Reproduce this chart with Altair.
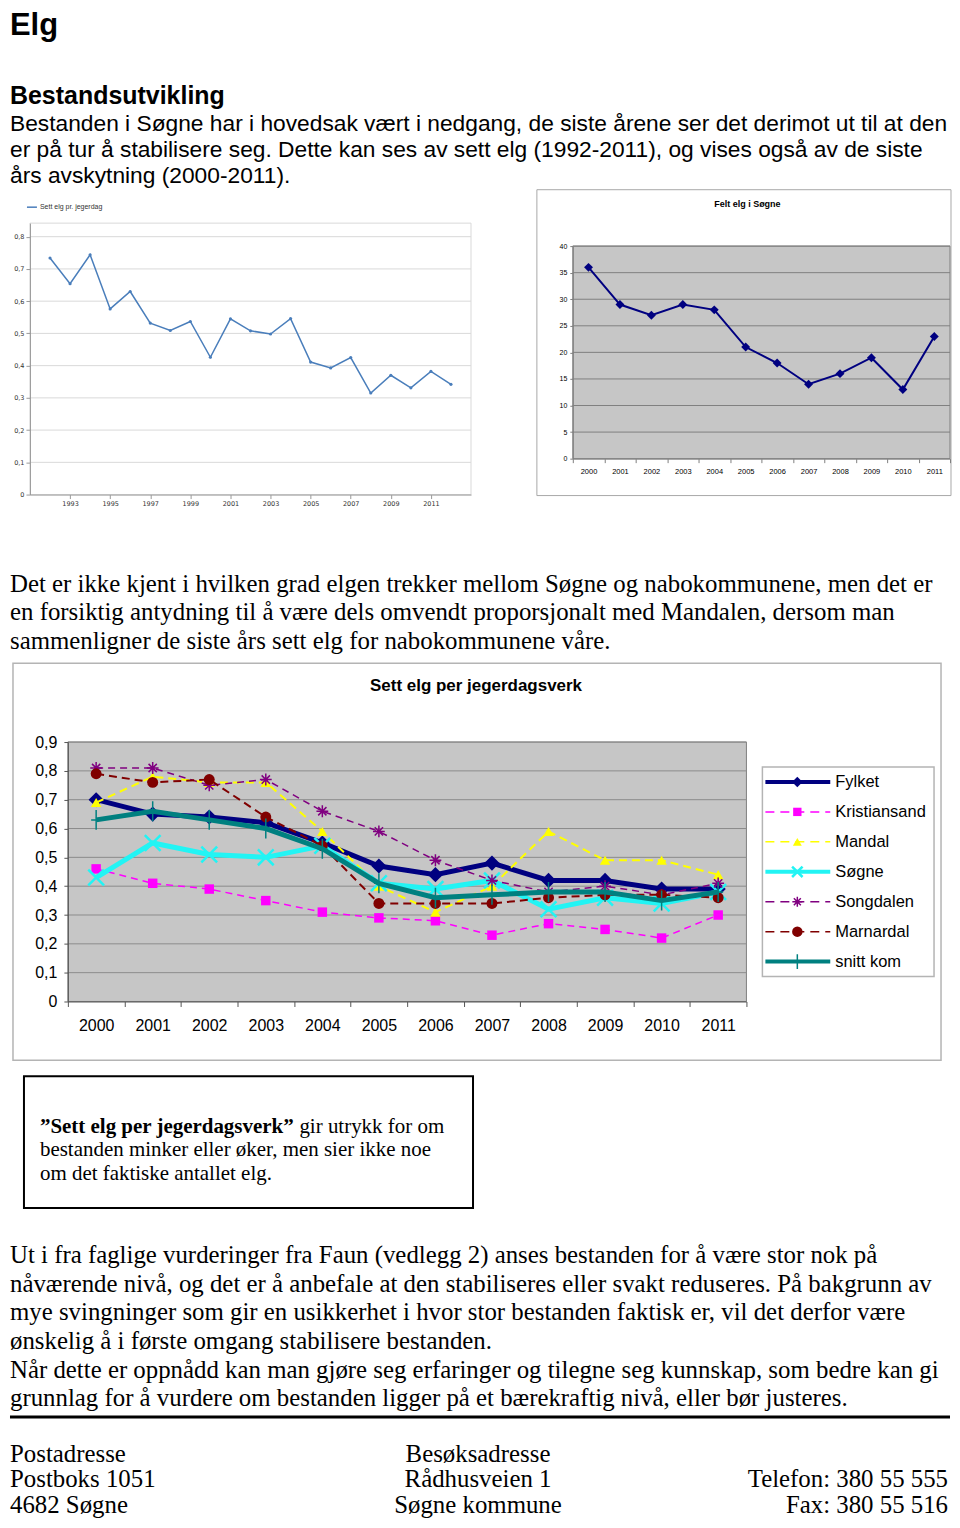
import altair as alt
import pandas as pd

# ---------------- text content ----------------
PAGE_TITLE = "Elg"
HEADING = "Bestandsutvikling"
PARA1 = [
    "Bestanden i Søgne har i hovedsak vært i nedgang, de siste årene ser det derimot ut til at den",
    "er på tur å stabilisere seg. Dette kan ses av sett elg (1992-2011), og vises også av de siste",
    "års avskytning (2000-2011).",
]
PARA2 = [
    "Det er ikke kjent i hvilken grad elgen trekker mellom Søgne og nabokommunene, men det er",
    "en forsiktig antydning til å være dels omvendt proporsjonalt med Mandalen, dersom man",
    "sammenligner de siste års sett elg for nabokommunene våre.",
]
BOX_BOLD = "\u201dSett elg per jegerdagsverk\u201d"
BOX_REST = "gir utrykk for om"
BOX_LINES = [
    "bestanden minker eller øker, men sier ikke noe",
    "om det faktiske antallet elg.",
]
PARA3 = [
    "Ut i fra faglige vurderinger fra Faun (vedlegg 2) anses bestanden for å være stor nok på",
    "nåværende nivå, og det er å anbefale at den stabiliseres eller svakt reduseres. På bakgrunn av",
    "mye svingninger som gir en usikkerhet i hvor stor bestanden faktisk er, vil det derfor være",
    "ønskelig å i første omgang stabilisere bestanden.",
    "Når dette er oppnådd kan man gjøre seg erfaringer og tilegne seg kunnskap, som bedre kan gi",
    "grunnlag for å vurdere om bestanden ligger på et bærekraftig nivå, eller bør justeres.",
]
FOOTER_LEFT = ["Postadresse", "Postboks 1051", "4682 Søgne"]
FOOTER_MID = ["Besøksadresse", "Rådhusveien 1", "Søgne kommune"]
FOOTER_RIGHT = ["Telefon: 380 55 555", "Fax: 380 55 516"]

# ---------------- chart 1: sett elg pr. jegerdag ----------------
LEFT_LEGEND = "Sett elg pr. jegerdag"
LEFT_YEARS = [1992, 1993, 1994, 1995, 1996, 1997, 1998, 1999, 2000, 2001, 2002,
              2003, 2004, 2005, 2006, 2007, 2008, 2009, 2010, 2011, 2012]
LEFT_VALUES = [0.734, 0.654, 0.744, 0.576, 0.630, 0.532, 0.509, 0.537, 0.426, 0.545, 0.508,
               0.498, 0.546, 0.411, 0.393, 0.425, 0.315, 0.370, 0.331, 0.382, 0.342]
LEFT_XTICKS = [1993, 1995, 1997, 1999, 2001, 2003, 2005, 2007, 2009, 2011]
LEFT_YTICKS = [0, 0.1, 0.2, 0.3, 0.4, 0.5, 0.6, 0.7, 0.8]

# ---------------- chart 2: felt elg i Søgne ----------------
RIGHT_TITLE = "Felt elg i Søgne"
YEARS = ["2000", "2001", "2002", "2003", "2004", "2005", "2006", "2007", "2008", "2009", "2010", "2011"]
FELT_ELG = [36, 29, 27, 29, 28, 21, 18, 14, 16, 19, 13, 23]
RIGHT_YTICKS = [0, 5, 10, 15, 20, 25, 30, 35, 40]

# ---------------- chart 3: sett elg per jegerdagsverk ----------------
BIG_TITLE = "Sett elg per jegerdagsverk"
SERIES = ["Fylket", "Kristiansand", "Mandal", "Søgne", "Songdalen", "Marnardal", "snitt kom"]
FYLKET = [0.70, 0.65, 0.64, 0.62, 0.55, 0.47, 0.44, 0.48, 0.42, 0.42, 0.39, 0.39]
KRISTIANSAND = [0.46, 0.41, 0.39, 0.35, 0.31, 0.29, 0.28, 0.23, 0.27, 0.25, 0.22, 0.30]
MANDAL = [0.69, 0.78, 0.76, 0.76, 0.59, 0.40, 0.31, 0.40, 0.59, 0.49, 0.49, 0.44]
SOGNE = [0.43, 0.55, 0.51, 0.50, 0.54, 0.41, 0.39, 0.42, 0.32, 0.36, 0.34, 0.38]
SONGDALEN = [0.81, 0.81, 0.75, 0.77, 0.66, 0.59, 0.49, 0.42, 0.38, 0.40, 0.37, 0.41]
MARNARDAL = [0.79, 0.76, 0.77, 0.64, 0.54, 0.34, 0.34, 0.34, 0.36, 0.37, 0.37, 0.36]
SNITT_KOM = [0.63, 0.66, 0.63, 0.60, 0.53, 0.41, 0.36, 0.37, 0.38, 0.38, 0.35, 0.38]
BIG_VALUES = [FYLKET, KRISTIANSAND, MANDAL, SOGNE, SONGDALEN, MARNARDAL, SNITT_KOM]
BIG_YTICKS = [0, 0.1, 0.2, 0.3, 0.4, 0.5, 0.6, 0.7, 0.8, 0.9]

# ---------------- styles / layout ----------------
SANS = "Liberation Sans"
SERIF = "Liberation Serif"
W, H = 944, 1512
SERIF_SIZE = 24.9
COMMA = "datum.value == 0 ? '0' : replace(format(datum.value, '.1f'), '.', ',')"
XPATH = "M-1,-1L1,1M-1,1L1,-1"
ASTER = "M-1,0L1,0M0,-1L0,1M-0.7,-0.7L0.7,0.7M-0.7,0.7L0.7,-0.7"
PLUS = "M0,-1L0,1M-0.5,0L0.5,0"
STYLE = {
    "Fylket": dict(color="#000080", width=5, shape="diamond", size=230, filled=True, mw=1, lw=4, ls=110),
    "Kristiansand": dict(color="#FF00FF", width=1.5, dash=[7, 5], shape="square", size=90, filled=True, mw=1, lw=1.5, ls=70),
    "Mandal": dict(color="#FFFF00", width=2, dash=[8, 5], shape="triangle-up", size=110, filled=True, mw=1, lw=1.5, ls=80),
    "Søgne": dict(color="#22F4F4", width=5, shape=XPATH, size=250, filled=False, mw=2.5, lw=4, ls=110),
    "Songdalen": dict(color="#800080", width=1.5, dash=[7, 5], shape=ASTER, size=140, filled=False, mw=1.5, lw=1.5, ls=100),
    "Marnardal": dict(color="#800000", width=2, dash=[8, 5], shape="circle", size=120, filled=True, mw=1, lw=1.5, ls=110),
    "snitt kom": dict(color="#008080", width=5, shape=PLUS, size=400, filled=False, mw=1.5, lw=4, ls=220),
}


def one():
    return pd.DataFrame({"k": [0]})


def text_block(lines, x, y0, dy, size, font=SANS, weight="normal", align="left"):
    df = pd.DataFrame({
        "t": lines,
        "px": [x] * len(lines),
        "py": [y0 + i * dy for i in range(len(lines))],
    })
    return alt.Chart(df).mark_text(
        align=align, baseline="alphabetic", font=font, fontSize=size,
        fontWeight=weight, color="black",
    ).encode(
        x=alt.X("px:Q", scale=None, axis=None),
        y=alt.Y("py:Q", scale=None, axis=None),
        text="t:N",
    )


def box(x0, y0, x1, y1, **kw):
    return alt.Chart(one()).mark_rect(**kw).encode(
        x=alt.value(x0), x2=alt.value(x1), y=alt.value(y0), y2=alt.value(y1))


def label(text, x, y, **kw):
    return alt.Chart(one()).mark_text(text=text, **kw).encode(x=alt.value(x), y=alt.value(y))


def line_kw(st, legend=False):
    kw = dict(color=st["color"], strokeWidth=st["lw"] if legend else st["width"])
    if "dash" in st:
        kw["strokeDash"] = [9, 6] if legend else st["dash"]
    return kw


def point_kw(st, legend=False):
    return dict(shape=st["shape"], size=st["ls"] if legend else st["size"], filled=st["filled"],
                color=st["color"], strokeWidth=st["mw"], opacity=1)


# ---------------- left chart ----------------
L_X0, L_X1, L_Y0, L_Y1 = 20, 462, 214, 486
LBLUE = "#4A7EBB"
left_df = pd.DataFrame({"year": LEFT_YEARS, "v": LEFT_VALUES})
lx = alt.X("year:Q", scale=alt.Scale(domain=[1991, 2013], range=[L_X0, L_X1], nice=False, zero=False),
           axis=alt.Axis(orient="bottom", offset=L_Y1 - H, values=LEFT_XTICKS, format="d", grid=False,
                         labelFont="DejaVu Sans", labelFontSize=6.5, labelColor="#333", labelPadding=2,
                         tickSize=4, tickColor="#999", domainColor="#999", labelFlush=False,
                         title=None, zindex=1))
ly = alt.Y("v:Q", scale=alt.Scale(domain=[0, 0.842], range=[L_Y1, L_Y0], nice=False),
           axis=alt.Axis(orient="left", offset=-L_X0, values=LEFT_YTICKS, labelExpr=COMMA, grid=False,
                         labelFont="DejaVu Sans", labelFontSize=6.5, labelColor="#333", labelPadding=2,
                         tickSize=4, tickColor="#999", domainColor="#999", labelFlush=False,
                         title=None, zindex=1))
left_layer = alt.layer(
    box(L_X0, L_Y0, L_X1, L_Y1, fill="white", stroke="#d9d9d9", strokeWidth=1),
    alt.Chart(pd.DataFrame({"v": LEFT_YTICKS[1:]})).mark_rule(color="#d9d9d9", strokeWidth=1).encode(
        y=ly, x=alt.value(L_X0), x2=alt.value(L_X1)),
    alt.Chart(left_df).mark_line(color=LBLUE, strokeWidth=1.5).encode(x=lx, y=ly),
    alt.Chart(left_df).mark_point(filled=True, size=10, color=LBLUE, opacity=1).encode(x=lx, y=ly),
    alt.Chart(one()).mark_rule(color=LBLUE, strokeWidth=1.5).encode(
        x=alt.value(17), x2=alt.value(27), y=alt.value(198)),
    label(LEFT_LEGEND, 30, 198, align="left", baseline="middle", font=SANS, fontSize=7, color="#333"),
)

# ---------------- right chart ----------------
R_X0, R_X1, R_Y0, R_Y1 = 564, 942, 237, 450
NAVY = "#000080"
right_df = pd.DataFrame({"year": YEARS, "v": FELT_ELG})
rx = alt.X("year:O", scale=alt.Scale(type="band", domain=YEARS, range=[R_X0, R_X1], paddingInner=0, paddingOuter=0),
           bandPosition=0.5,
           axis=alt.Axis(orient="bottom", offset=R_Y1 - H, labelAngle=0, tickBand="extent", tickSize=4,
                         labelFont=SANS, labelFontSize=7.5, labelColor="black", labelPadding=5,
                         domainColor="#808080", tickColor="#808080", grid=False, title=None, zindex=1))
ry = alt.Y("v:Q", scale=alt.Scale(domain=[0, 40], range=[R_Y1, R_Y0], nice=False),
           axis=alt.Axis(orient="left", offset=-R_X0, values=RIGHT_YTICKS, grid=False, tickSize=3,
                         labelFont=SANS, labelFontSize=7, labelColor="black", labelPadding=3,
                         domainColor="#808080", tickColor="#808080", labelFlush=False, title=None, zindex=1))
right_layer = alt.layer(
    box(528, 180.5, 943, 487, fillOpacity=0, stroke="#a8a8a8", strokeWidth=1),
    label(RIGHT_TITLE, 739, 195, align="center", baseline="middle", font=SANS, fontSize=9,
          fontWeight="bold", color="black"),
    box(R_X0, R_Y0, R_X1, R_Y1, fill="#C6C6C6", stroke="#808080", strokeWidth=1),
    alt.Chart(pd.DataFrame({"v": RIGHT_YTICKS[1:]})).mark_rule(color="#808080", strokeWidth=1).encode(
        y=ry, x=alt.value(R_X0), x2=alt.value(R_X1)),
    alt.Chart(right_df).mark_line(color=NAVY, strokeWidth=2).encode(x=rx, y=ry),
    alt.Chart(right_df).mark_point(shape="diamond", filled=True, size=80, color=NAVY, opacity=1).encode(x=rx, y=ry),
)

# ---------------- big chart ----------------
B_X0, B_X1, B_Y0, B_Y1 = 58, 738, 734, 994
big_df = pd.DataFrame([
    {"serie": s, "year": y, "v": v}
    for s, vals in zip(SERIES, BIG_VALUES) for y, v in zip(YEARS, vals)
])
bx = alt.X("year:O", scale=alt.Scale(type="band", domain=YEARS, range=[B_X0, B_X1], paddingInner=0, paddingOuter=0),
           bandPosition=0.5,
           axis=alt.Axis(orient="bottom", offset=B_Y1 - H, labelAngle=0, tickBand="extent", tickSize=5,
                         labelFont=SANS, labelFontSize=16, labelColor="black", labelPadding=11,
                         domainColor="#555555", tickColor="#555555", grid=False, title=None, zindex=1))
by = alt.Y("v:Q", scale=alt.Scale(domain=[0, 0.9], range=[B_Y1, B_Y0], nice=False),
           axis=alt.Axis(orient="left", offset=-B_X0, values=BIG_YTICKS, labelExpr=COMMA, grid=False,
                         tickSize=4, labelFont=SANS, labelFontSize=16, labelColor="black", labelPadding=7,
                         domainColor="#555555", tickColor="#555555", labelFlush=False, title=None, zindex=1))
big_layers = [
    box(3, 655, 933, 1053, fillOpacity=0, stroke="#b4b4b4", strokeWidth=1.5),
    label(BIG_TITLE, 467, 678, align="center", baseline="middle", font=SANS, fontSize=17,
          fontWeight="bold", color="black"),
    box(B_X0, B_Y0, B_X1, B_Y1, fill="#C6C6C6", stroke="#808080", strokeWidth=1),
    alt.Chart(pd.DataFrame({"v": BIG_YTICKS[1:]})).mark_rule(color="#8c8c8c", strokeWidth=1).encode(
        y=by, x=alt.value(B_X0), x2=alt.value(B_X1)),
]
for s in SERIES:
    st = STYLE[s]
    base = alt.Chart(big_df).transform_filter(alt.FieldEqualPredicate(field="serie", equal=s))
    big_layers.append(base.mark_line(**line_kw(st)).encode(x=bx, y=by))
    big_layers.append(base.mark_point(**point_kw(st)).encode(x=bx, y=by))
big_layer = alt.layer(*big_layers)

# ---------------- legend of big chart ----------------
LG_X0, LG_X1, LG_Y0, LG_Y1 = 754, 926, 759, 969
leg_df = pd.DataFrame({"serie": SERIES})
lgy = alt.Y("serie:N", scale=alt.Scale(type="point", domain=SERIES, range=[LG_Y0, LG_Y1], padding=0.5), axis=None)
leg_layers = [box(LG_X0, LG_Y0, LG_X1, LG_Y1, fill="white", stroke="#b4b4b4", strokeWidth=1.5)]
for s in SERIES:
    st = STYLE[s]
    base = alt.Chart(leg_df).transform_filter(alt.FieldEqualPredicate(field="serie", equal=s))
    leg_layers.append(base.mark_rule(**line_kw(st, True)).encode(x=alt.value(757), x2=alt.value(822), y=lgy))
    leg_layers.append(base.mark_point(**point_kw(st, True)).encode(x=alt.value(789), y=lgy))
    leg_layers.append(base.mark_text(align="left", baseline="middle", font=SANS, fontSize=16.5,
                                     color="black").encode(x=alt.value(827), y=lgy, text="serie:N"))
legend_layer = alt.layer(*leg_layers)

# ---------------- page text ----------------
text_layers = [
    text_block([PAGE_TITLE], 0, 25, 0, 31, weight="bold"),
    text_block([HEADING], 0, 95, 0, 25, weight="bold"),
    text_block(PARA1, 0, 122, 26, 22.8),
    text_block(PARA2, 0, 583.5, 28.6, SERIF_SIZE, font=SERIF),
    box(14, 1069, 464, 1201, fill="white", stroke="black", strokeWidth=2),
    text_block([BOX_BOLD], 30, 1126, 0, 21, font=SERIF, weight="bold"),
    text_block([BOX_REST], 290, 1126, 0, 21, font=SERIF),
    text_block(BOX_LINES, 30, 1149, 23.5, 21, font=SERIF),
    text_block(PARA3, 0, 1256, 28.7, SERIF_SIZE, font=SERIF),
    alt.Chart(one()).mark_rule(color="black", strokeWidth=3).encode(
        x=alt.value(0), x2=alt.value(942), y=alt.value(1410.5)),
    text_block(FOOTER_LEFT, 0, 1455, 26, SERIF_SIZE, font=SERIF),
    text_block(FOOTER_MID, 469, 1455, 26, SERIF_SIZE, font=SERIF, align="center"),
    text_block(FOOTER_RIGHT, 940, 1481, 25.7, SERIF_SIZE, font=SERIF, align="right"),
]

chart = alt.layer(
    *text_layers, left_layer, right_layer, big_layer, legend_layer
).resolve_scale(
    x="independent", y="independent"
).resolve_axis(
    x="independent", y="independent"
).properties(
    width=W, height=H, padding=0
).configure(font=SANS).configure_view(strokeWidth=0)

chart.save("out.html", embed_options={"renderer": "svg", "actions": False})
